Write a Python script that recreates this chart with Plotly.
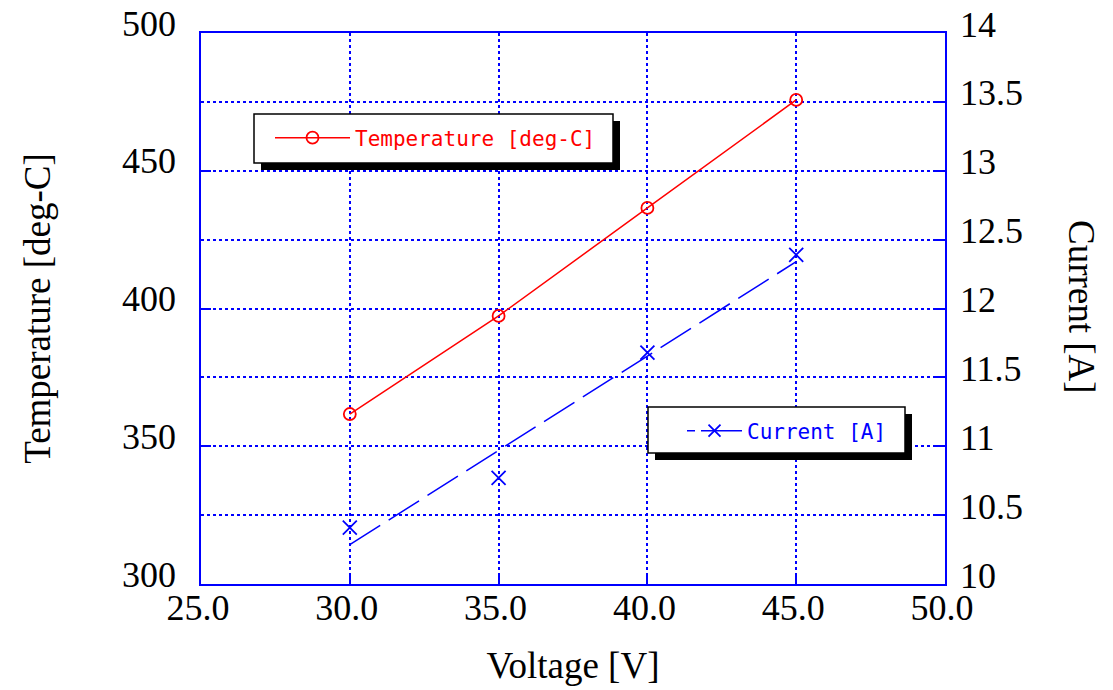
import numpy as np
import plotly.graph_objects as go

# ---- data ----
voltage = [30.0, 35.0, 40.0, 45.0]
temperature = [361.7, 397.3, 436.5, 475.7]
current = [10.41, 10.77, 11.68, 12.39]

x_tickvals = [25, 30, 35, 40, 45, 50]
temp_tickvals = [300, 350, 400, 450, 500]
curr_tickvals = [10, 10.5, 11, 11.5, 12, 12.5, 13, 13.5, 14]

# linear trend line for the current (drawn dashed in the reference)
slope, intercept = np.polyfit(voltage, current, 1)
fit_x = [voltage[0], voltage[-1]]
fit_y = [slope * v + intercept for v in fit_x]

RED = "#FF0000"
BLUE = "#0000FF"
SERIF = "Liberation Serif"
MONO = "DejaVu Sans Mono"
DASH = "36px,10px"

fig = go.Figure()

fig.add_trace(go.Scatter(
    x=voltage, y=temperature, mode="lines+markers", name="Temperature [deg-C]",
    line=dict(color=RED, width=1.5),
    marker=dict(symbol="circle-open", size=12, color=RED, line=dict(width=1.8)),
    legend="legend", yaxis="y",
))

fig.add_trace(go.Scatter(
    x=fit_x, y=fit_y, mode="lines", showlegend=False,
    line=dict(color=BLUE, width=1.5, dash=DASH), yaxis="y2",
))
fig.add_trace(go.Scatter(
    x=voltage, y=current, mode="markers", showlegend=False,
    marker=dict(symbol="x-thin-open", size=14, color=BLUE, line=dict(width=1.8, color=BLUE)),
    yaxis="y2",
))
# legend entry for the current series (line + marker sample)
fig.add_trace(go.Scatter(
    x=[None], y=[None], mode="lines+markers", name="Current [A]",
    line=dict(color=BLUE, width=1.5, dash="8px,6px,60px,6px"),
    marker=dict(symbol="x-thin-open", size=12, color=BLUE, line=dict(width=1.8, color=BLUE)),
    legend="legend2", yaxis="y2",
))

W, H = 1113, 690
OFF = 0  # page body margin removed via post_script
PL, PR, PT, PB = 201, 945, 33, 584  # target plot-area edges in the screenshot
L, T = PL - OFF, PT - OFF
R, B = W - (PR - OFF), H - (PB - OFF)
pw, ph = PR - PL, PB - PT

def pxx(px):
    return (px - PL) / pw

def pxy(py):
    return (PB - py) / ph

axis_common = dict(
    showline=True, linecolor=BLUE, linewidth=1.5,
    ticks="inside", ticklen=10, tickcolor=BLUE, tickwidth=1.5,
    tickfont=dict(family=SERIF, size=36, color="black"),
    zeroline=False, automargin=False, ticklabeloverflow="allow",
)

fig.update_layout(
    width=W, height=H,
    margin=dict(l=L, r=R, t=T, b=B, autoexpand=False),
    paper_bgcolor="white", plot_bgcolor="white",
    xaxis=dict(
        range=[25, 50], tickvals=x_tickvals, tickformat=".1f",
        showgrid=True, gridcolor=BLUE, griddash="dot", gridwidth=1.5,
        mirror=True, ticklabelstandoff=-9, ticklabelshift=-3,
        title=dict(text="Voltage [V]", font=dict(family=SERIF, size=37, color="black"), standoff=25),
        **axis_common,
    ),
    yaxis=dict(
        range=[300, 500], tickvals=temp_tickvals, showgrid=False,
        ticklabelstandoff=16, ticklabelshift=-10,
        title=dict(text="Temperature [deg-C]", font=dict(family=SERIF, size=37, color="black"), standoff=60),
        **axis_common,
    ),
    yaxis2=dict(
        range=[10, 14], tickvals=curr_tickvals, overlaying="y", side="right",
        showgrid=True, gridcolor=BLUE, griddash="dot", gridwidth=1.5,
        ticklabelstandoff=6, ticklabelshift=-9,
        **axis_common,
    ),
    legend=dict(
        x=pxx(270), y=pxy(138), xanchor="left", yanchor="middle",
        bgcolor="rgba(0,0,0,0)", borderwidth=0, itemwidth=75,
        font=dict(family=MONO, size=21, color=RED),
    ),
    legend2=dict(
        x=pxx(682), y=pxy(431), xanchor="left", yanchor="middle",
        bgcolor="rgba(0,0,0,0)", borderwidth=0, itemwidth=55,
        font=dict(family=MONO, size=21, color=BLUE),
    ),
    showlegend=True,
)

# right axis title reads top-to-bottom
fig.add_annotation(
    text="Current [A]", xref="paper", yref="paper",
    x=pxx(1082), y=pxy(307), xanchor="center", yanchor="middle",
    showarrow=False, textangle=90,
    font=dict(family=SERIF, size=37, color="black"),
)

# legend boxes with drop shadows
boxes = [(254, 114, 613, 163), (648, 407, 905, 453)]
for (x0, y0, x1, y1) in boxes:
    fig.add_shape(type="rect", xref="paper", yref="paper",
                  x0=pxx(x0 + 7), x1=pxx(x1 + 7), y0=pxy(y1 + 7), y1=pxy(y0 + 7),
                  fillcolor="black", line=dict(width=0), layer="above")
    fig.add_shape(type="rect", xref="paper", yref="paper",
                  x0=pxx(x0), x1=pxx(x1), y0=pxy(y1), y1=pxy(y0),
                  fillcolor="white", line=dict(width=1.5, color="black"), layer="above")

fig.write_html("out.html", config={"displayModeBar": False},
               post_script="document.body.style.margin='0px';")
